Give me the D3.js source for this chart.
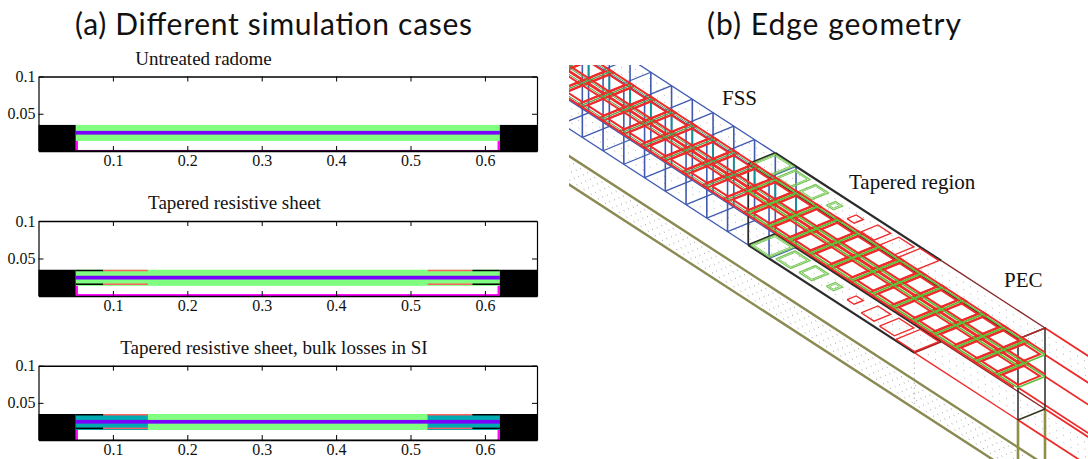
<!DOCTYPE html>
<html>
<head>
<meta charset="utf-8">
<script src="https://cdn.jsdelivr.net/npm/d3@7"></script>
<style>
body { margin: 0; background: #fff; }
text { fill: #111; }
.serif { font-family: "Liberation Serif", serif; }
.title { font-family: "Lato", sans-serif; font-size: 30px; font-weight: 400; }
</style>
</head>
<body>
<div id="chart"></div>
<script>
// left panels: cross sections
const caseTitles = ["Untreated radome", "Tapered resistive sheet", "Tapered resistive sheet, bulk losses in SI"];
const xTicks = [0.1, 0.2, 0.3, 0.4, 0.5, 0.6];
const yTicks = [0.05, 0.1];
const xDomain = [0, 0.67];
const yDomain = [0, 0.1];

// [x0, x1, y0, y1] in metres
const blocks = [[0, 0.05, 0, 0.035], [0.62, 0.67, 0, 0.035]];
const greenLayer = [[0.05, 0.62, 0.0135, 0.035]];
const purpleLayer = [[0.05, 0.62, 0.022, 0.027]];
const magentaSides = [[0.05, 0.053, 0, 0.0135], [0.617, 0.62, 0, 0.0135]];
const magentaFloor = [[0.05, 0.62, 0, 0.0014], [0.05, 0.62, 0, 0.0026], [0.05, 0.62, 0, 0.0005]];
const floorColors = ["#4a004a", "#ff00ff", "#000"];
const blackStrips = [[0.05, 0.087, 0.033, 0.035], [0.05, 0.087, 0.0147, 0.0167], [0.583, 0.62, 0.033, 0.035], [0.583, 0.62, 0.0147, 0.0167]];
const redStrips = [[0.087, 0.147, 0.033, 0.035], [0.087, 0.147, 0.0147, 0.0167], [0.523, 0.583, 0.033, 0.035], [0.523, 0.583, 0.0147, 0.0167]];
const tealLayer = [[0.05, 0.147, 0.0135, 0.035], [0.523, 0.62, 0.0135, 0.035]];
const hasTaper = [false, true, true];
const hasBulk = [false, false, true];
const panelTops = [76.5, 221, 365.7];
const panelBottoms = [151, 296, 440];
const titleYs = [65, 209, 354];
const titleXs = [203.5, 234.5, 274];

// right panel: model in cell units (i along, v across, z up)
const blueCells = [-12, -11, -10, -9, -8, -7, -6, -5, -4, -3, -2, -1, 0, 1];
const fssCells = [-12, -11, -10, -9, -8, -7, -6, -5, -4, -3, -2, -1, 0, 1, 2, 3, 4, 5, 6, 7, 8, 9, 10, 11, 12];
const fssLevels = [0.4, 0.67];
const taperSizes = [0.9, 0.72, 0.62, 0.34, 0.34, 0.62, 0.72, 0.9];
const taperColors = ["g", "g", "g", "g", "r", "r", "r", "r"];
const sheetLevels = [0, 1];
const floorLevel = -0.69;
const floorDots = [0.17, 0.33, 0.5, 0.67, 0.83];
const sheetDots = [0.25, 0.5, 0.75];

const svg = d3.select("#chart").append("svg")
    .attr("width", 1088)
    .attr("height", 459);

svg.append("text").attr("class", "title").attr("x", 75).attr("y", 35).attr("textLength", 397).text("(a) Different simulation cases");
svg.append("text").attr("class", "title").attr("x", 707).attr("y", 35).attr("textLength", 254).text("(b) Edge geometry");

caseTitles.forEach((title, p) => {
    const x = d3.scaleLinear().domain(xDomain).range([38.5, 537]);
    const y = d3.scaleLinear().domain(yDomain).range([panelBottoms[p], panelTops[p]]);
    const g = svg.append("g");

    const drawRects = (rows, color) => {
        g.selectAll(null)
            .data(rows)
            .enter().append("rect")
            .attr("x", d => x(d[0]))
            .attr("y", d => y(d[3]))
            .attr("width", d => x(d[1]) - x(d[0]))
            .attr("height", d => y(d[2]) - y(d[3]))
            .attr("fill", color);
    };

    drawRects(greenLayer, "#80ff80");
    if (hasBulk[p]) drawRects(tealLayer, "#00aab0");
    drawRects(purpleLayer, "#7a00ff");
    if (hasTaper[p]) {
        drawRects(blackStrips, "#000");
        drawRects(redStrips, "#ff6060");
    }
    drawRects(magentaSides, "#ff00ff");
    drawRects([magentaFloor[p]], floorColors[p]);
    drawRects(blocks, "#000");

    g.append("text")
        .attr("class", "serif")
        .attr("x", titleXs[p])
        .attr("y", titleYs[p])
        .attr("text-anchor", "middle")
        .style("font-size", "19px")
        .text(title);

    // 坐标轴
    const axes = [
        [d3.axisBottom(x).tickValues(xTicks).tickFormat(d3.format(".1f")), `translate(0,${y(0)})`],
        [d3.axisTop(x).tickValues(xTicks).tickFormat(""), `translate(0,${y(0.1)})`],
        [d3.axisLeft(y).tickValues(yTicks).tickFormat(d => d === 0.1 ? "0.1" : "0.05"), `translate(${x(0)},0)`],
        [d3.axisRight(y).tickValues(yTicks).tickFormat(""), `translate(${x(0.67)},0)`]
    ];
    axes.forEach(([axis, tr], k) => {
        const a = g.append("g").attr("transform", tr)
            .call(axis.tickSizeOuter(0).tickSizeInner(-5).tickPadding(k === 0 ? 4 : 3));
        a.selectAll(".domain").attr("stroke", "#000").attr("stroke-width", k < 2 ? 1.6 : 1.2);
        a.selectAll("line").attr("stroke", "#000").attr("stroke-width", 1);
        a.selectAll("text")
            .attr("class", "serif")
            .style("font-size", "16px")
            .style("font-family", "'Liberation Serif', serif");
    });
});

// projection of the unit cell model
const xU = d3.scaleLinear().domain([0, 13]).range([748.3, 1018]);
const yU = d3.scaleLinear().domain([0, 13]).range([245, 420]);
const xV = d3.scaleLinear().domain([0, 1]).range([0, 27]);
const yV = d3.scaleLinear().domain([0, 1]).range([0, -11]);
const yZ = d3.scaleLinear().domain([0, 1]).range([0, -81]);
const project = d => [xU(d[0]) + xV(d[1]), yU(d[0]) + yV(d[1]) + yZ(d[2])];
const path3 = d3.line().x(d => project(d)[0]).y(d => project(d)[1]);

svg.append("clipPath").attr("id", "geoClip")
    .append("rect").attr("x", 569).attr("y", 65).attr("width", 519).attr("height", 394);

const geo = svg.append("g").attr("clip-path", "url(#geoClip)").attr("fill", "none");

const seg = (pts, color, w, dash) => {
    const s = geo.append("path").attr("d", path3(pts)).attr("stroke", color).attr("stroke-width", w);
    if (dash) s.attr("stroke-dasharray", dash);
    return s;
};
const loop = (i0, i1, v0, v1, z) => [[i0, v0, z], [i1, v0, z], [i1, v1, z], [i0, v1, z], [i0, v0, z]];

// mesh dots
floorDots.forEach(v => seg([[-14, v, floorLevel], [22, v, floorLevel]], "#999", 1, "1 7.5"));
sheetLevels.forEach(z => sheetDots.forEach(v => seg([[-14, v, z], [22, v, z]], "#a8a8a8", 1, "1 7.5")));
seg([[8, 0, 0], [8, 0, floorLevel]], "#8a8a8a", 1, "1 4");

// olive floor
[0, 1].forEach(v => seg([[-14, v, floorLevel], [22, v, floorLevel]], "#8a8a52", 2.4));
[0, 1].forEach(v => seg([[13, v, 0], [13, v, -2]], "#8f8f45", 2.6));

// blue FSS boxes
const blueBlue = "#3f5ab0";
sheetLevels.forEach(z => [0, 1].forEach(v => seg([[blueCells[0], v, z], [1, v, z]], blueBlue, 1.3)));
blueCells.forEach(i => {
    sheetLevels.forEach(z => seg([[i, 0, z], [i, 1, z]], blueBlue, 1.3));
    [0, 1].forEach(v => seg([[i, v, 0], [i, v, 1]], blueBlue, 1.6));
    seg([[i, 1, fssLevels[0]], [i, 1, fssLevels[1]]], "#118f96", 1.8);
});

// PEC lines running off the picture
const red = "#ee2b2b";
[[1, 1], [1, 0.67], [1, 0.4], [1, 0], [0, 0.4], [0, 0]].forEach(([v, z]) => {
    seg([[13, v, z], [22, v, z]], red, 1.8);
});
[[0, 1], [1, 1], [0, 0], [1, 0]].forEach(([v, z]) => {
    seg([[8, v, z], [13, v, z]], z === 0 && v === 0 ? red : "#8a2a2a", 1.4);
});

// end frame
seg([[13, 0, 0], [13, 0, 1], [13, 1, 1], [13, 1, 0]], "#1c1c1c", 1.4);
seg([[13, 0, 0], [13, 1, 0]], "#3a3a20", 1.8);
seg([[13, 0, 1], [13, 1, 1]], "#b03030", 1.4);
seg([[8, 0, 0], [8, 1, 0]], "#a02020", 2);

// black tapered frame
const frame = "#2b2b2b";
seg([[0, 1, 1], [8, 1, 1]], frame, 2.2);
seg([[0, 0, 1], [13, 0, 1]], frame, 2);
seg([[0, 0, 0], [8, 0, 0]], frame, 2.2);
seg([[0, 1, 0], [8, 1, 0]], frame, 2.6);
sheetLevels.forEach(z => seg([[0, 0, z], [0, 1, z]], frame, 2.2));
seg([[0, 0, 0], [0, 0, 1]], frame, 1.5);

// tapered patches on both sheets
sheetLevels.forEach(z => {
    taperSizes.forEach((s, k) => {
        const c = taperColors[k] === "g" ? "#7cc95c" : red;
        const m = (1 - s) / 2;
        seg(loop(k + m, k + 1 - m, m, 1 - m, z), c, 1.4);
        if (taperColors[k] === "g") seg(loop(k + m + 0.07, k + 1 - m - 0.07, m + 0.06, 1 - m - 0.06, z), c, 1);
    });
});

// FSS grids, red loops with a green core
fssLevels.forEach(z => {
    fssCells.forEach(i => {
        seg(loop(i + 0.12, i + 0.88, 0.1, 0.9, z), red, 2);
        seg(loop(i - 0.1, i + 0.1, -0.08, 1.08, z), red, 2);
    });
    [-0.08, 1.08].forEach(v => seg([[-12, v, z], [12.9, v, z]], red, 2));
});
fssLevels.forEach(z => {
    fssCells.forEach(i => {
        const c = i < 0 ? "#4fa84f" : "#5cc038";
        const w = i < 0 ? 1 : 1.6;
        [0, 1].forEach(v => seg([[i, v, z], [i + 1, v, z]], c, w));
        seg([[i, 0, z], [i, 1, z]], c, w);
        seg([[i + 1, 0, z], [i + 1, 1, z]], c, w);
    });
});

svg.selectAll(".lbl")
    .data([["FSS", 722, 105], ["Tapered region", 849, 189], ["PEC", 1004, 287]])
    .enter().append("text")
    .attr("class", "serif")
    .attr("x", d => d[1])
    .attr("y", d => d[2])
    .style("font-size", "21px")
    .text(d => d[0]);
</script>
</body>
</html>
